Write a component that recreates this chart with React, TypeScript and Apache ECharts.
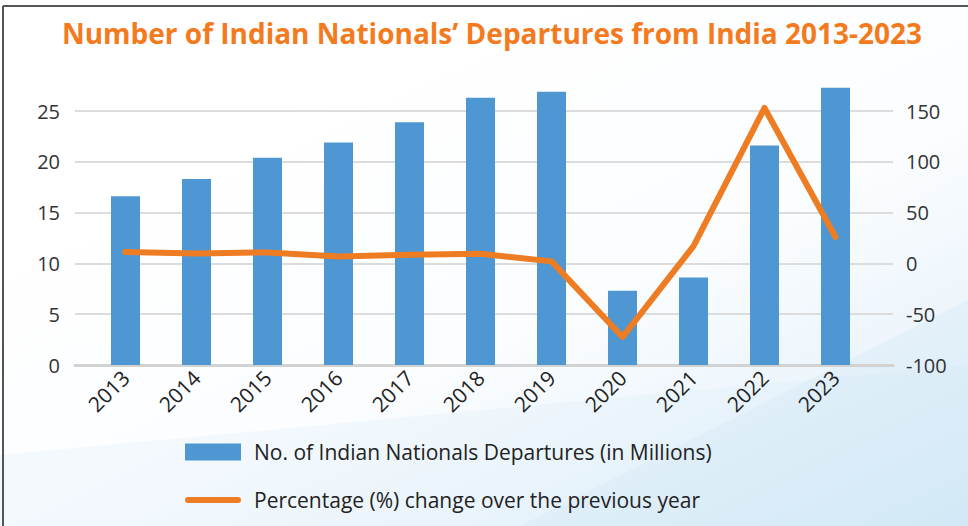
import React, { useEffect, useRef } from "react";
import * as echarts from "echarts";

const years = ["2013", "2014", "2015", "2016", "2017", "2018", "2019", "2020", "2021", "2022", "2023"];
const departures = [16.6, 18.3, 20.4, 21.9, 23.9, 26.3, 26.9, 7.3, 8.6, 21.6, 27.3];
const pctChange = [11.1, 9.8, 10.8, 6.9, 8.5, 9.5, 2.0, -72.5, 17, 153, 26];
const leftTicks = { min: 0, max: 25, interval: 5 };
const rightTicks = { min: -100, max: 150, interval: 50 };
const barName = "No. of Indian Nationals Departures (in Millions)";
const lineName = "Percentage (%) change over the previous year";
const titleText = "Number of Indian Nationals’ Departures from India 2013-2023";

const FONT = "'Open Sans', 'Noto Sans', sans-serif";

export default function App() {
  const ref = useRef<HTMLDivElement>(null);
  useEffect(() => {
    if (!ref.current) return;
    const chart = echarts.init(ref.current, null, { renderer: "svg" });
    chart.setOption({
      animation: false,
      backgroundColor: "#ffffff",
      title: {
        text: titleText,
        left: 487,
        top: 14,
        textAlign: "center",
        textStyle: { color: "#F47A20", fontSize: 28, fontWeight: "bold", fontFamily: FONT },
      },
      graphic: [
        {
          type: "rect",
          z: -20,
          silent: true,
          shape: { x: 0, y: 0, width: 968, height: 526 },
          style: {
            fill: {
              type: "linear",
              x: 0.3,
              y: 0.2,
              x2: 1,
              y2: 1,
              colorStops: [
                { offset: 0, color: "#ffffff" },
                { offset: 0.45, color: "#fbfdff" },
                { offset: 0.75, color: "#eaf4fb" },
                { offset: 1, color: "#d6eaf7" },
              ],
            },
          },
        },
        {
          type: "polygon",
          z: -15,
          silent: true,
          shape: { points: [[0, 526], [0, 455], [968, 365], [968, 526]] },
          style: { fill: "rgba(215,234,248,0.25)" },
        },
        {
          type: "polygon",
          z: -15,
          silent: true,
          shape: { points: [[520, 526], [968, 300], [968, 526]] },
          style: { fill: "rgba(200,226,245,0.25)" },
        },
        {
          type: "line",
          silent: true,
          shape: { x1: 3, y1: 6, x2: 968, y2: 6 },
          style: { stroke: "#555555", lineWidth: 2 },
        },
        {
          type: "line",
          silent: true,
          shape: { x1: 3, y1: 6, x2: 3, y2: 526 },
          style: { stroke: "#555555", lineWidth: 2 },
        },
      ],
      legend: {
        orient: "vertical",
        left: 180,
        top: 436,
        itemWidth: 56,
        itemHeight: 17,
        itemGap: 26,
        data: [
          { name: barName, icon: "rect" },
          { name: lineName, icon: "path://M3,0H53A3,3,0,0,1,53,6H3A3,3,0,0,1,3,0Z" },
        ],
        textStyle: { fontSize: 21, color: "#222222", fontFamily: FONT, lineHeight: 22, padding: [0, 0, 0, 8] },
      },
      grid: [
        { left: 75, right: 75, top: 111, bottom: 161 },
        { left: 90, right: 97, top: 111, bottom: 161 },
      ],
      xAxis: [
        {
          gridIndex: 0,
          type: "category",
          data: years,
          axisLine: { show: true, lineStyle: { color: "#d2d2d2", width: 3 } },
          axisTick: { show: false },
          axisLabel: { show: false },
          splitLine: { show: false },
        },
        {
          gridIndex: 1,
          type: "category",
          data: years,
          axisLine: { show: false },
          axisTick: { show: false },
          axisLabel: { rotate: 45, margin: 9, fontSize: 21, color: "#222222", fontFamily: FONT },
        },
      ],
      yAxis: [
        {
          gridIndex: 0,
          type: "value",
          position: "left",
          ...leftTicks,
          axisLine: { show: false },
          axisTick: { show: false },
          axisLabel: { margin: 15, fontSize: 20, color: "#333333", fontFamily: FONT },
          splitLine: { show: true, lineStyle: { color: "#dcdcdc", width: 2 } },
        },
        {
          gridIndex: 0,
          type: "value",
          position: "right",
          ...rightTicks,
          axisLine: { show: false },
          axisTick: { show: false },
          axisLabel: { margin: 13, fontSize: 20, color: "#333333", fontFamily: FONT },
          splitLine: { show: false },
        },
        {
          gridIndex: 1,
          type: "value",
          position: "left",
          ...leftTicks,
          show: false,
          splitLine: { show: false },
        },
        {
          gridIndex: 1,
          type: "value",
          position: "right",
          ...rightTicks,
          show: false,
          splitLine: { show: false },
        },
      ],
      series: [
        {
          name: barName,
          type: "bar",
          xAxisIndex: 1,
          yAxisIndex: 2,
          data: departures,
          barWidth: 29,
          clip: false,
          itemStyle: { color: "#4E97D3" },
        },
        {
          name: lineName,
          type: "line",
          xAxisIndex: 1,
          yAxisIndex: 3,
          data: pctChange,
          clip: false,
          showSymbol: false,
          symbol: "none",
          itemStyle: { color: "#EE7C22" },
          lineStyle: { color: "#EE7C22", width: 6, cap: "round", join: "round" },
        },
      ],
    });
    return () => chart.dispose();
  }, []);
  return (
    <div
      ref={ref}
      style={{ position: "fixed", left: 0, top: 0, width: 968, height: 526 }}
    />
  );
}
